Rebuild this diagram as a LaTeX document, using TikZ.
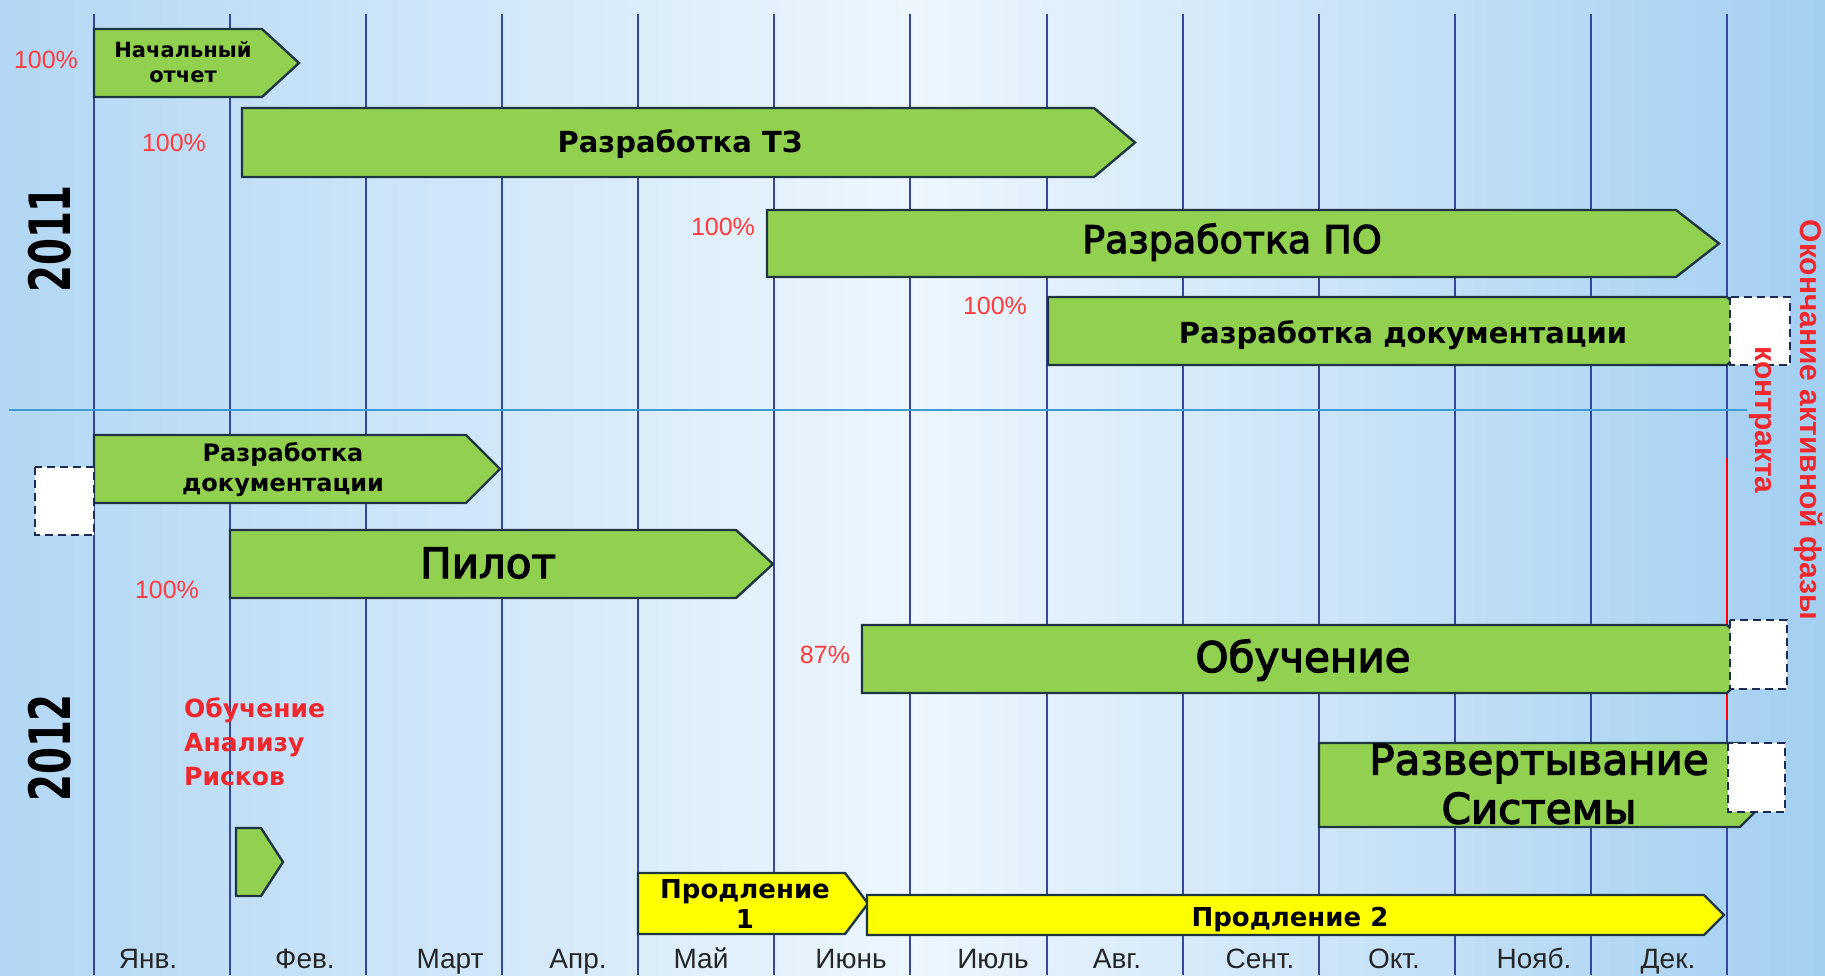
\documentclass[tikz,border=0pt]{standalone}
\usepackage{fontspec}
\setmainfont{DejaVu Sans}
\newfontfamily\bigfont{DejaVu Sans}[FakeBold=3]
\newfontfamily\arialfont{Liberation Sans}
\newfontfamily\yearfont{DejaVu Sans}[FakeStretch=0.68]
\definecolor{bargreen}{HTML}{92D050}
\definecolor{baryellow}{HTML}{FFFF00}
\definecolor{barline}{HTML}{1E3642}
\definecolor{gridblue}{HTML}{34479A}
\definecolor{sepblue}{HTML}{3C9BD4}
\definecolor{boxline}{HTML}{1C2A55}
\definecolor{pctred}{HTML}{FF3B3B}
\definecolor{notered}{HTML}{F0282D}
\definecolor{bgleft}{HTML}{B2D7F4}
\definecolor{bgmid}{HTML}{EDF6FD}
\definecolor{bgright}{HTML}{A3CFF1}
\tikzset{
  greenbar/.style = {draw=barline, fill=bargreen, line width=2.4pt},
  yellowbar/.style = {greenbar, fill=baryellow},
  gridline/.style = {draw=gridblue, line width=2pt},
  sepline/.style = {draw=sepblue, line width=2pt},
  ghostbox/.style = {draw=boxline, fill=white, line width=1.6pt,
    dash pattern=on 8pt off 5pt},
  barlabel/.style = {align=center, inner sep=0pt, text=black,
    font=\bfseries\fontsize{29}{34}\selectfont},
  biglabel/.style = {align=center, inner sep=0pt, text=black,
    font=\bigfont\fontsize{42}{49}\selectfont},
  pct/.style = {inner sep=0pt, text=pctred,
    font=\arialfont\fontsize{25}{30}\selectfont},
  month/.style = {inner sep=0pt, anchor=base, text=black!85,
    font=\arialfont\fontsize{28}{30}\selectfont},
  yearlabel/.style = {inner sep=0pt, rotate=90,
    font=\yearfont\bfseries\fontsize{57}{60}\selectfont}
}
% chevron bar: [style]{left}{right}{top}{bottom}{tip}
\newcommand{\ganttbar}[6][greenbar]{%
  \draw[#1] (#2,#4) -- (#3,#4) -- (#6,{(#4+#5)/2}) -- (#3,#5) -- (#2,#5) -- cycle;}

\begin{document}
\begin{tikzpicture}[x=1pt, y=-1pt]
\useasboundingbox (0,0) rectangle (1825,975);
\shade[left color=bgleft, right color=bgright, middle color=bgmid]
  (0,0) rectangle (1825,975);

% month grid
\foreach \i in {0,...,12}
  \draw[gridline] ({94+136.08*\i},14) -- ({94+136.08*\i},975);
\draw[sepline] (9,410) -- (1747,410);
\draw[draw=red, line width=2pt] (1727,458) -- (1727,720);

% 2011
\ganttbar{94}{262}{29}{97}{299}
\ganttbar{242}{1094}{108}{177}{1135}
\ganttbar{767}{1676}{210}{277}{1719}
\ganttbar{1048}{1727}{297}{365}{1761}
\node[barlabel, font=\bfseries\fontsize{21}{25}\selectfont] (report) at (183,62) {Начальный\\отчет};
\node[barlabel, anchor=base] (spec) at (680,152) {Разработка ТЗ};
\node[biglabel, anchor=base, font=\bigfont\fontsize{38}{44}\selectfont] (soft) at (1232,253) {Разработка ПО};
\node[barlabel, anchor=base] (docs) at (1403,343) {Разработка документации};

% 2012
\ganttbar{94}{466}{435}{503}{500}
\ganttbar{230}{736}{530}{598}{773}
\ganttbar{862}{1727}{625}{693}{1761}
\ganttbar{1319}{1740}{743}{827}{1782}
\ganttbar{236}{261}{828}{896}{283}
\ganttbar[yellowbar]{638}{845}{873}{934}{868}
\ganttbar[yellowbar]{867}{1704}{895}{935}{1724}
\node[barlabel, font=\bfseries\fontsize{24}{30}\selectfont] (docs2) at (283,470) {Разработка\\документации};
\node[biglabel, anchor=base] (pilot) at (488,578) {Пилот};
\node[biglabel, anchor=base] (train) at (1303,672) {Обучение};
\node[biglabel] (deploy) at (1539,784) {Развертывание\\Системы};
\node[barlabel, font=\bfseries\fontsize{26}{30}\selectfont] (ext1) at (745,904) {Продление\\1};
\node[barlabel, anchor=base, font=\bfseries\fontsize{26}{30}\selectfont] (ext2) at (1290,926) {Продление 2};

% open ends
\draw[ghostbox] (1730,297) rectangle (1790,365);
\draw[ghostbox] (35,467) rectangle (94,535);
\draw[ghostbox] (1730,620) rectangle (1787,689);
\draw[ghostbox] (1728,743) rectangle (1785,812);

% progress
\node[pct] (p1) at (46,60) {100\%};
\node[pct] (p2) at (174,143) {100\%};
\node[pct] (p3) at (723,227) {100\%};
\node[pct] (p4) at (995,306) {100\%};
\node[pct] (p5) at (167,590) {100\%};
\node[pct] (p6) at (825,655) {87\%};

% side texts
\node[yearlabel] (y2011) at (50,239) {2011};
\node[yearlabel] (y2012) at (50,748) {2012};
\node[anchor=north west, align=left, inner sep=0pt, text=notered,
  font=\bfseries\fontsize{25}{34}\selectfont] (risk) at (184,697)
  {Обучение\\Анализу\\Рисков};
\node[rotate=-90, align=center, inner sep=0pt, text=notered,
  font=\arialfont\bfseries\fontsize{30}{45}\selectfont] (close) at (1786,420)
  {Окончание активной фазы\\контракта};

% months
\foreach \m/\x in {Янв./148, Фев./305, Март/450, Апр./578, Май/701, Июнь/851,
    Июль/993, Авг./1117, Сент./1260, Окт./1394, Нояб./1534, Дек./1668}
  \node[month] (m\x) at (\x,968) {\m};
\end{tikzpicture}
\end{document}
